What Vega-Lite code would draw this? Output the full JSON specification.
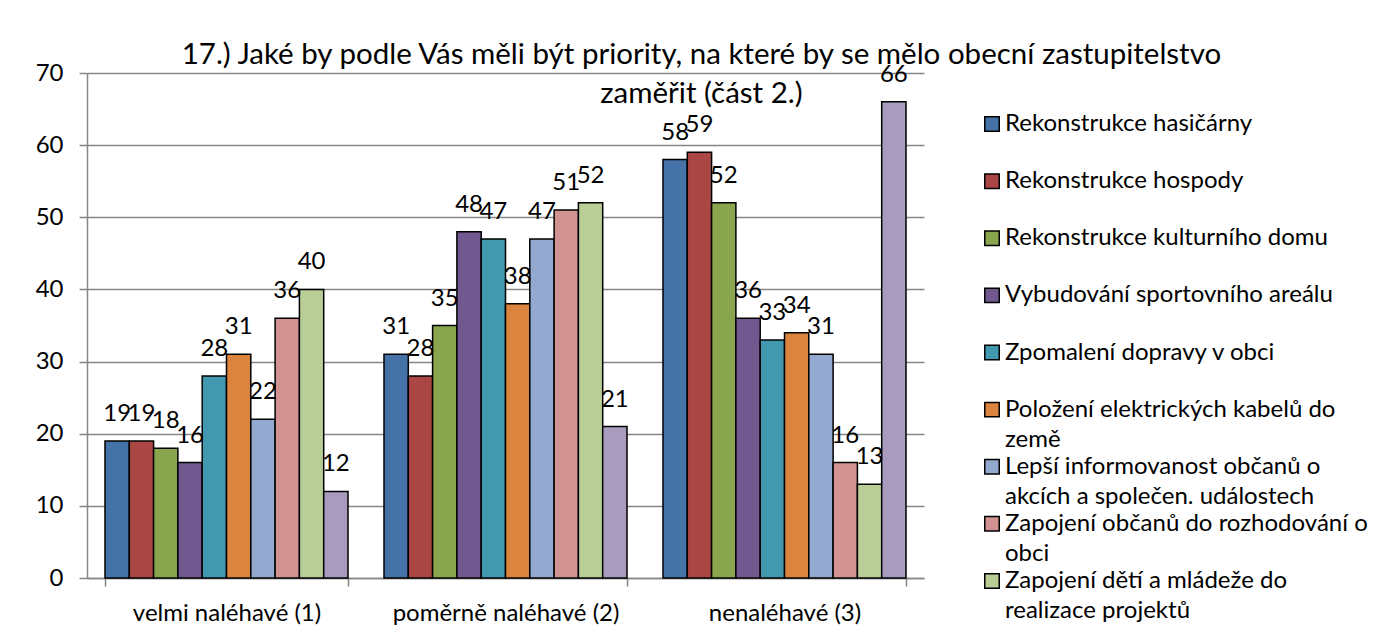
{
  "$schema": "https://vega.github.io/schema/vega-lite/v6.json",
  "padding": {"left": 35, "top": 40, "right": 0, "bottom": 0},
  "autosize": {"type": "pad"},
  "background": "white",
  "title": {
    "text": "17.) Jaké by podle Vás měli být priority, na které by se mělo obecní zastupitelstvo",
    "subtitle": "zaměřit (část 2.)",
    "anchor": "middle",
    "font": "Lato",
    "subtitleFont": "Lato",
    "fontSize": 29.5,
    "subtitleFontSize": 29.5,
    "fontWeight": "normal",
    "color": "black",
    "subtitleColor": "black",
    "offset": -48,
    "subtitlePadding": 9
  },
  "datasets": {
    "bars": [
      {"category": "velmi naléhavé (1)", "series": "Rekonstrukce hasičárny", "value": 19},
      {"category": "velmi naléhavé (1)", "series": "Rekonstrukce hospody", "value": 19},
      {"category": "velmi naléhavé (1)", "series": "Rekonstrukce kulturního domu", "value": 18},
      {"category": "velmi naléhavé (1)", "series": "Vybudování sportovního areálu", "value": 16},
      {"category": "velmi naléhavé (1)", "series": "Zpomalení dopravy v obci", "value": 28},
      {"category": "velmi naléhavé (1)", "series": "Položení elektrických kabelů do země", "value": 31},
      {"category": "velmi naléhavé (1)", "series": "Lepší informovanost občanů o akcích a společen. událostech", "value": 22},
      {"category": "velmi naléhavé (1)", "series": "Zapojení občanů do rozhodování o obci", "value": 36},
      {"category": "velmi naléhavé (1)", "series": "Zapojení dětí a mládeže do realizace projektů", "value": 40},
      {"category": "velmi naléhavé (1)", "series": "Jiné", "value": 12},
      {"category": "poměrně naléhavé (2)", "series": "Rekonstrukce hasičárny", "value": 31},
      {"category": "poměrně naléhavé (2)", "series": "Rekonstrukce hospody", "value": 28},
      {"category": "poměrně naléhavé (2)", "series": "Rekonstrukce kulturního domu", "value": 35},
      {"category": "poměrně naléhavé (2)", "series": "Vybudování sportovního areálu", "value": 48},
      {"category": "poměrně naléhavé (2)", "series": "Zpomalení dopravy v obci", "value": 47},
      {"category": "poměrně naléhavé (2)", "series": "Položení elektrických kabelů do země", "value": 38},
      {"category": "poměrně naléhavé (2)", "series": "Lepší informovanost občanů o akcích a společen. událostech", "value": 47},
      {"category": "poměrně naléhavé (2)", "series": "Zapojení občanů do rozhodování o obci", "value": 51},
      {"category": "poměrně naléhavé (2)", "series": "Zapojení dětí a mládeže do realizace projektů", "value": 52},
      {"category": "poměrně naléhavé (2)", "series": "Jiné", "value": 21},
      {"category": "nenaléhavé (3)", "series": "Rekonstrukce hasičárny", "value": 58},
      {"category": "nenaléhavé (3)", "series": "Rekonstrukce hospody", "value": 59},
      {"category": "nenaléhavé (3)", "series": "Rekonstrukce kulturního domu", "value": 52},
      {"category": "nenaléhavé (3)", "series": "Vybudování sportovního areálu", "value": 36},
      {"category": "nenaléhavé (3)", "series": "Zpomalení dopravy v obci", "value": 33},
      {"category": "nenaléhavé (3)", "series": "Položení elektrických kabelů do země", "value": 34},
      {"category": "nenaléhavé (3)", "series": "Lepší informovanost občanů o akcích a společen. událostech", "value": 31},
      {"category": "nenaléhavé (3)", "series": "Zapojení občanů do rozhodování o obci", "value": 16},
      {"category": "nenaléhavé (3)", "series": "Zapojení dětí a mládeže do realizace projektů", "value": 13},
      {"category": "nenaléhavé (3)", "series": "Jiné", "value": 66}
    ],
    "legend": [
      {"series": "Rekonstrukce hasičárny", "label": "Rekonstrukce hasičárny"},
      {"series": "Rekonstrukce hospody", "label": "Rekonstrukce hospody"},
      {"series": "Rekonstrukce kulturního domu", "label": "Rekonstrukce kulturního domu"},
      {"series": "Vybudování sportovního areálu", "label": "Vybudování sportovního areálu"},
      {"series": "Zpomalení dopravy v obci", "label": "Zpomalení dopravy v obci"},
      {"series": "Položení elektrických kabelů do země", "label": "Položení elektrických kabelů do\nzemě"},
      {"series": "Lepší informovanost občanů o akcích a společen. událostech", "label": "Lepší informovanost občanů o\nakcích a společen. událostech"},
      {"series": "Zapojení občanů do rozhodování o obci", "label": "Zapojení občanů do rozhodování o\nobci"},
      {"series": "Zapojení dětí a mládeže do realizace projektů", "label": "Zapojení dětí a mládeže do\nrealizace projektů"}
    ]
  },
  "spacing": 57,
  "hconcat": [
    {
      "width": 837,
      "height": 505,
      "data": {"name": "bars"},
      "encoding": {
        "x": {
          "field": "category", "type": "nominal", "sort": null,
          "scale": {"paddingInner": 0.129, "paddingOuter": 0.0645},
          "axis": {"title": null, "labelAngle": 0, "labelLimit": 0, "tickBand": "extent", "tickSize": 8, "labelPadding": 15, "grid": false}
        },
        "xOffset": {
          "field": "series", "type": "nominal", "sort": null,
          "scale": {"paddingInner": 0, "paddingOuter": 0}
        },
        "y": {
          "field": "value", "type": "quantitative",
          "scale": {"domain": [0, 70], "nice": false},
          "axis": {"title": null, "values": [0, 10, 20, 30, 40, 50, 60, 70], "tickSize": 8, "labelPadding": 16, "grid": true}
        }
      },
      "layer": [
        {
          "mark": {"type": "bar", "stroke": "black", "strokeWidth": 1.5},
          "encoding": {
            "color": {
              "field": "series", "type": "nominal", "sort": null, "legend": null,
              "scale": {
                "domain": ["Rekonstrukce hasičárny", "Rekonstrukce hospody", "Rekonstrukce kulturního domu", "Vybudování sportovního areálu", "Zpomalení dopravy v obci", "Položení elektrických kabelů do země", "Lepší informovanost občanů o akcích a společen. událostech", "Zapojení občanů do rozhodování o obci", "Zapojení dětí a mládeže do realizace projektů", "Jiné"],
                "range": ["#4572A7", "#AA4643", "#89A54E", "#71588F", "#4198AF", "#DB843D", "#93A9CF", "#D19392", "#B9CD96", "#A99BBD"]
              }
            }
          }
        },
        {
          "mark": {"type": "text", "baseline": "alphabetic", "dy": -20, "fontSize": 24, "font": "Lato", "color": "black"},
          "encoding": {"text": {"field": "value", "type": "quantitative"}}
        }
      ]
    },
    {
      "width": 16,
      "height": 559,
      "data": {"name": "legend"},
      "encoding": {
        "y": {"field": "series", "type": "nominal", "sort": null, "scale": {"type": "point", "padding": 0.893}, "axis": null}
      },
      "layer": [
        {
          "mark": {"type": "point", "shape": "square", "filled": true, "size": 210, "stroke": "black", "strokeWidth": 1.5, "opacity": 1},
          "encoding": {
            "color": {
              "field": "series", "type": "nominal", "sort": null, "legend": null,
              "scale": {
                "domain": ["Rekonstrukce hasičárny", "Rekonstrukce hospody", "Rekonstrukce kulturního domu", "Vybudování sportovního areálu", "Zpomalení dopravy v obci", "Položení elektrických kabelů do země", "Lepší informovanost občanů o akcích a společen. událostech", "Zapojení občanů do rozhodování o obci", "Zapojení dětí a mládeže do realizace projektů", "Jiné"],
                "range": ["#4572A7", "#AA4643", "#89A54E", "#71588F", "#4198AF", "#DB843D", "#93A9CF", "#D19392", "#B9CD96", "#A99BBD"]
              }
            }
          }
        },
        {
          "mark": {"type": "text", "align": "left", "baseline": "alphabetic", "dx": 13, "dy": 7, "fontSize": 24, "font": "Lato", "color": "black", "lineBreak": "\n", "lineHeight": 30},
          "encoding": {"text": {"field": "label", "type": "nominal"}}
        }
      ]
    }
  ],
  "config": {
    "font": "Lato",
    "view": {"stroke": null},
    "axis": {
      "labelFont": "Lato", "labelFontSize": 24, "labelColor": "black",
      "domainColor": "#868686", "tickColor": "#868686", "gridColor": "#868686",
      "domainWidth": 1.5, "tickWidth": 1.5, "gridWidth": 1.5
    }
  }
}
